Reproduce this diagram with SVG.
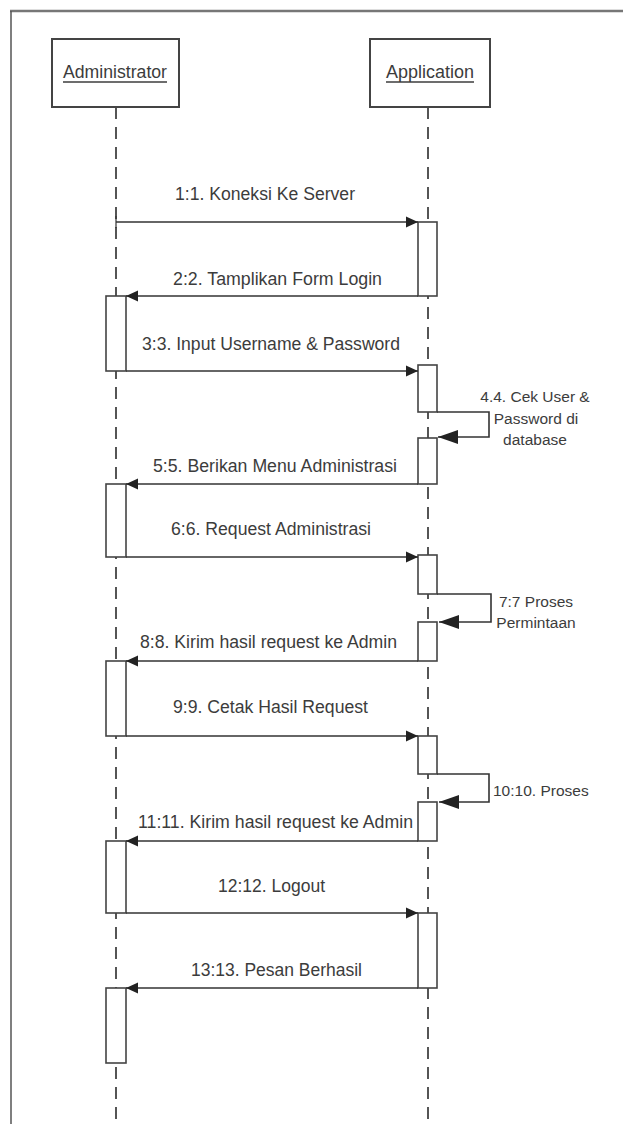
<svg xmlns="http://www.w3.org/2000/svg" width="623" height="1124" viewBox="0 0 623 1124">
<style>
  text { font-family: "Liberation Sans", Arial, sans-serif; fill: #3c3c3c; }
  .lbl { font-size: 17.5px; text-anchor: middle; }
  .side { font-size: 15.5px; }
  .actor { fill: #fff; stroke: #444; stroke-width: 2; }
  .act { fill: #fff; stroke: #444; stroke-width: 1.6; }
  .life { stroke: #555; stroke-width: 2; stroke-dasharray: 12 8; fill: none; }
  .msg { stroke: #333; stroke-width: 1.6; fill: none; marker-end: url(#arr); }
  .self { stroke: #333; stroke-width: 1.6; fill: none; marker-end: url(#arrBig); }
  .ul { stroke: #3c3c3c; stroke-width: 1.3; }
</style>
<defs>
  <marker id="arr" markerUnits="userSpaceOnUse" markerWidth="12" markerHeight="12" viewBox="0 0 12 12" refX="12" refY="6" orient="auto">
    <path d="M0,0.5 L12,6 L0,11.5 Z" fill="#222"/>
  </marker>
  <marker id="arrBig" markerUnits="userSpaceOnUse" markerWidth="20" markerHeight="14" viewBox="0 0 20 14" refX="20" refY="7" orient="auto">
    <path d="M0,0 L20,7 L0,14 Z" fill="#222"/>
  </marker>
</defs>
<rect x="0" y="0" width="623" height="1124" fill="#fff"/>
<g id="frame">
  <line x1="10" y1="11" x2="623" y2="11" stroke="#777" stroke-width="2.5"/>
  <line x1="11" y1="11" x2="11" y2="1124" stroke="#555" stroke-width="1.5"/>
</g>
<g id="lifelines">
  <line class="life" x1="116" y1="107" x2="116" y2="1124"/>
  <line class="life" x1="428" y1="107" x2="428" y2="1124"/>
</g>
<g id="administrator">
  <rect class="actor" x="52" y="39" width="127" height="68"/>
  <text x="115" y="78" style="font-size:17.5px" text-anchor="middle" textLength="104" lengthAdjust="spacingAndGlyphs">Administrator</text>
  <line class="ul" x1="63" y1="82" x2="167" y2="82"/>
</g>
<g id="application">
  <rect class="actor" x="370" y="39" width="120" height="68"/>
  <text x="430" y="78" style="font-size:17.5px" text-anchor="middle" textLength="88" lengthAdjust="spacingAndGlyphs">Application</text>
  <line class="ul" x1="386" y1="82" x2="474" y2="82"/>
</g>
<g id="admin-activations">
  <rect class="act" x="106" y="296" width="20" height="75"/>
  <rect class="act" x="106" y="484" width="20" height="73"/>
  <rect class="act" x="106" y="661" width="20" height="75"/>
  <rect class="act" x="106" y="841" width="20" height="72"/>
  <rect class="act" x="106" y="988" width="20" height="75"/>
</g>
<g id="app-activations">
  <rect class="act" x="418" y="222" width="19" height="74"/>
  <rect class="act" x="418" y="365" width="19" height="47"/>
  <rect class="act" x="418" y="438" width="19" height="46"/>
  <rect class="act" x="418" y="555" width="19" height="39"/>
  <rect class="act" x="418" y="622" width="19" height="39"/>
  <rect class="act" x="418" y="736" width="19" height="38"/>
  <rect class="act" x="418" y="802" width="19" height="39"/>
  <rect class="act" x="418" y="913" width="19" height="75"/>
</g>
<g id="connectors">
  <line x1="116" y1="216" x2="116" y2="228" stroke="#333" stroke-width="1.2"/>
  <line class="msg" x1="116" y1="222" x2="418" y2="222"/>
  <line class="msg" x1="418" y1="296" x2="126" y2="296"/>
  <line class="msg" x1="126" y1="371" x2="418" y2="371"/>
  <polyline class="self" points="437,412 489,412 489,437 438,437"/>
  <line class="msg" x1="418" y1="484" x2="126" y2="484"/>
  <line class="msg" x1="126" y1="557" x2="418" y2="557"/>
  <polyline class="self" points="437,594 491,594 491,622 439,622"/>
  <line class="msg" x1="418" y1="661" x2="126" y2="661"/>
  <line class="msg" x1="126" y1="736" x2="418" y2="736"/>
  <polyline class="self" points="437,774 489,774 489,802 439,802"/>
  <line class="msg" x1="418" y1="841" x2="126" y2="841"/>
  <line class="msg" x1="126" y1="913" x2="418" y2="913"/>
  <line class="msg" x1="418" y1="988" x2="126" y2="988"/>
</g>
<g id="labels">
  <text class="lbl" x="265" y="200" textLength="180" lengthAdjust="spacingAndGlyphs">1:1. Koneksi Ke Server</text>
  <text class="lbl" x="277.5" y="285" textLength="209" lengthAdjust="spacingAndGlyphs">2:2. Tamplikan Form Login</text>
  <text class="lbl" x="271" y="350" textLength="258" lengthAdjust="spacingAndGlyphs">3:3. Input Username &amp; Password</text>
  <text class="side" x="535" y="402" text-anchor="middle">4.4. Cek User &amp;</text>
  <text class="side" x="536" y="424" text-anchor="middle">Password di</text>
  <text class="side" x="535" y="445" text-anchor="middle">database</text>
  <text class="lbl" x="275" y="472" textLength="244" lengthAdjust="spacingAndGlyphs">5:5. Berikan Menu Administrasi</text>
  <text class="lbl" x="271" y="535" textLength="200" lengthAdjust="spacingAndGlyphs">6:6. Request Administrasi</text>
  <text class="side" x="536" y="607" text-anchor="middle">7:7 Proses</text>
  <text class="side" x="536" y="628" text-anchor="middle">Permintaan</text>
  <text class="lbl" x="268.5" y="648" textLength="257" lengthAdjust="spacingAndGlyphs">8:8. Kirim hasil request ke Admin</text>
  <text class="lbl" x="270.5" y="713" textLength="195" lengthAdjust="spacingAndGlyphs">9:9. Cetak Hasil Request</text>
  <text class="side" x="493" y="796">10:10. Proses</text>
  <text class="lbl" x="275.5" y="828" textLength="275" lengthAdjust="spacingAndGlyphs">11:11. Kirim hasil request ke Admin</text>
  <text class="lbl" x="271.5" y="892" textLength="107" lengthAdjust="spacingAndGlyphs">12:12. Logout</text>
  <text class="lbl" x="276.5" y="976" textLength="171" lengthAdjust="spacingAndGlyphs">13:13. Pesan Berhasil</text>
</g>
</svg>
